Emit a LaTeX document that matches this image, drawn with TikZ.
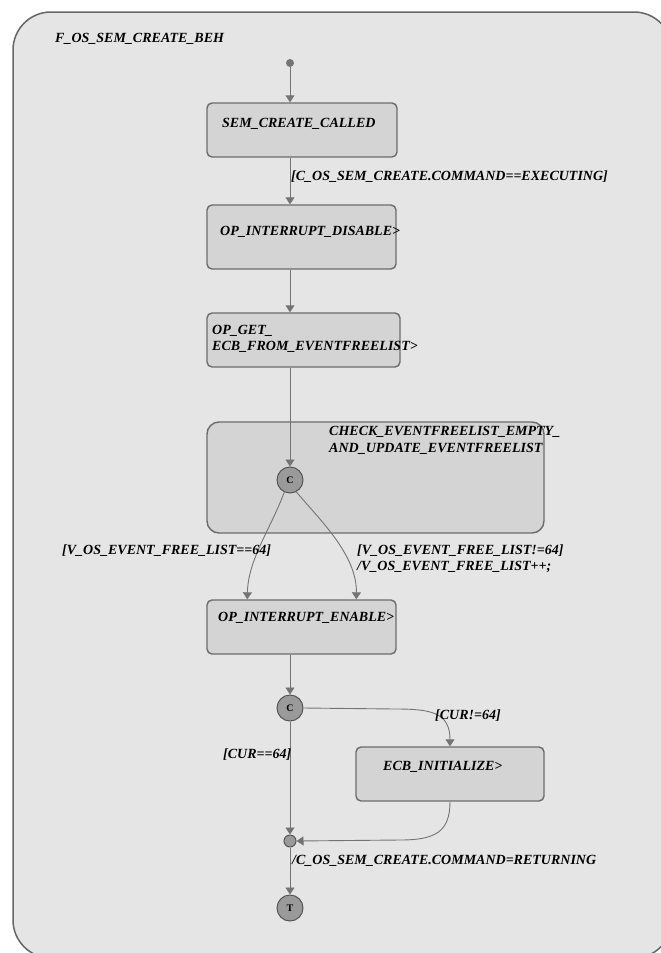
\documentclass[tikz,border=0pt]{standalone}
\usepackage{fontspec}
\setmainfont{Liberation Serif}
\usetikzlibrary{arrows.meta,calc}
\definecolor{framefill}{HTML}{E5E5E5}
\definecolor{framedraw}{HTML}{666666}
\definecolor{boxfill}{HTML}{D4D4D4}
\definecolor{boxdraw}{HTML}{6C6C6C}
\definecolor{edgecol}{HTML}{747474}
\definecolor{pseudofill}{HTML}{9A9A9A}
\definecolor{pseudodraw}{HTML}{555555}
\tikzset{
  txt/.style={font=\fontsize{14}{16}\selectfont\bfseries\itshape, inner sep=0pt, anchor=mid west, text=black},
  statebox/.style={draw=boxdraw, fill=boxfill, line width=1.4pt, rounded corners=5pt, inner sep=0pt},
  pseudo/.style={circle, draw=pseudodraw, fill=pseudofill, line width=1pt, minimum size=26pt, inner sep=0pt, font=\fontsize{10}{10}\selectfont\bfseries},
  arr/.style={draw=edgecol, line width=0.9pt, -{Triangle[width=9pt,length=7pt]}, fill=none},
  ln/.style={draw=edgecol, line width=0.9pt}
}
\begin{document}
\begin{tikzpicture}[x=1pt,y=-1pt]
\useasboundingbox (0,0) rectangle (661,953);
\clip (0,0) rectangle (661,953);
\fill[white] (0,0) rectangle (661,953);
\draw[fill=framefill, draw=framedraw, line width=1.5pt, rounded corners=38pt] (13,12) rectangle (672,958);
\node[txt] (title) at (55,40) {F\_OS\_SEM\_CREATE\_BEH};

% states
\node[statebox, minimum width=190pt, minimum height=54pt] (box1) at (302,130) {};
\node[statebox, minimum width=189pt, minimum height=64pt] (box2) at (301.5,237) {};
\node[statebox, minimum width=193pt, minimum height=54pt] (box3) at (303.5,340) {};
\node[statebox, minimum width=337pt, minimum height=111pt, rounded corners=12pt] (box4) at (375.5,477.5) {};
\node[statebox, minimum width=189pt, minimum height=54pt] (box5) at (301.5,627) {};
\node[statebox, minimum width=188pt, minimum height=54pt] (box6) at (450,774) {};

\node[txt] (t1) at (222,125) {SEM\_CREATE\_CALLED};
\node[txt] (t2) at (220,233) {OP\_INTERRUPT\_DISABLE>};
\node[txt] (t3a) at (212,332) {OP\_GET\_};
\node[txt] (t3b) at (212,348) {ECB\_FROM\_EVENTFREELIST>};
\node[txt] (t4a) at (329,433) {CHECK\_EVENTFREELIST\_EMPTY\_};
\node[txt] (t4b) at (329,450) {AND\_UPDATE\_EVENTFREELIST};
\node[txt] (t5) at (218,619) {OP\_INTERRUPT\_ENABLE>};
\node[txt] (t6) at (383,768) {ECB\_INITIALIZE>};

% pseudostates
\node[circle, fill=edgecol, minimum size=8pt, inner sep=0pt] (init) at (290,63) {};
\node[pseudo] (c1) at (290,480) {C};
\node[pseudo] (c2) at (290,708) {C};
\node[circle, draw=pseudodraw, fill=pseudofill, line width=1pt, minimum size=12pt, inner sep=0pt] (junc) at (290,841) {};
\node[pseudo] (term) at (290,908) {T};

% connectors
\draw[arr] (init) -- (init |- box1.north);
\draw[arr] (init |- box1.south) -- (init |- box2.north);
\draw[arr] (init |- box2.south) -- (init |- box3.north);
\draw[arr] (init |- box3.south) -- (c1.north);
\draw[arr] (c1.245) .. controls (270,530) and (248,560) .. ($(box5.north west)+(41,0)$);
\draw[arr] (c1.298) .. controls (320,520) and (357,555) .. ($(box5.north west)+(150,0)$);
\draw[arr] (c1 |- box5.south) -- (c2.north);
\draw[arr] (c2.east) -- (395,709) .. controls (430,709) and (450,712) .. (box6.north);
\draw[arr] (c2.south) -- (junc.north);
\draw[arr] (box6.south) .. controls (450,832) and (435,840) .. (400,840) -- (junc.east);
\draw[arr] (junc.south) -- (term.north);

% labels
\node[txt] (g1) at (291,178) {[C\_OS\_SEM\_CREATE.COMMAND==EXECUTING]};
\node[txt] (g2) at (62,552) {[V\_OS\_EVENT\_FREE\_LIST==64]};
\node[txt] (g3a) at (357,552) {[V\_OS\_EVENT\_FREE\_LIST!=64]};
\node[txt] (g3b) at (357,568) {/V\_OS\_EVENT\_FREE\_LIST++;};
\node[txt] (g4) at (435,717) {[CUR!=64]};
\node[txt] (g5) at (223,756) {[CUR==64]};
\node[txt] (g6) at (292,862) {/C\_OS\_SEM\_CREATE.COMMAND=RETURNING};
\end{tikzpicture}
\end{document}
